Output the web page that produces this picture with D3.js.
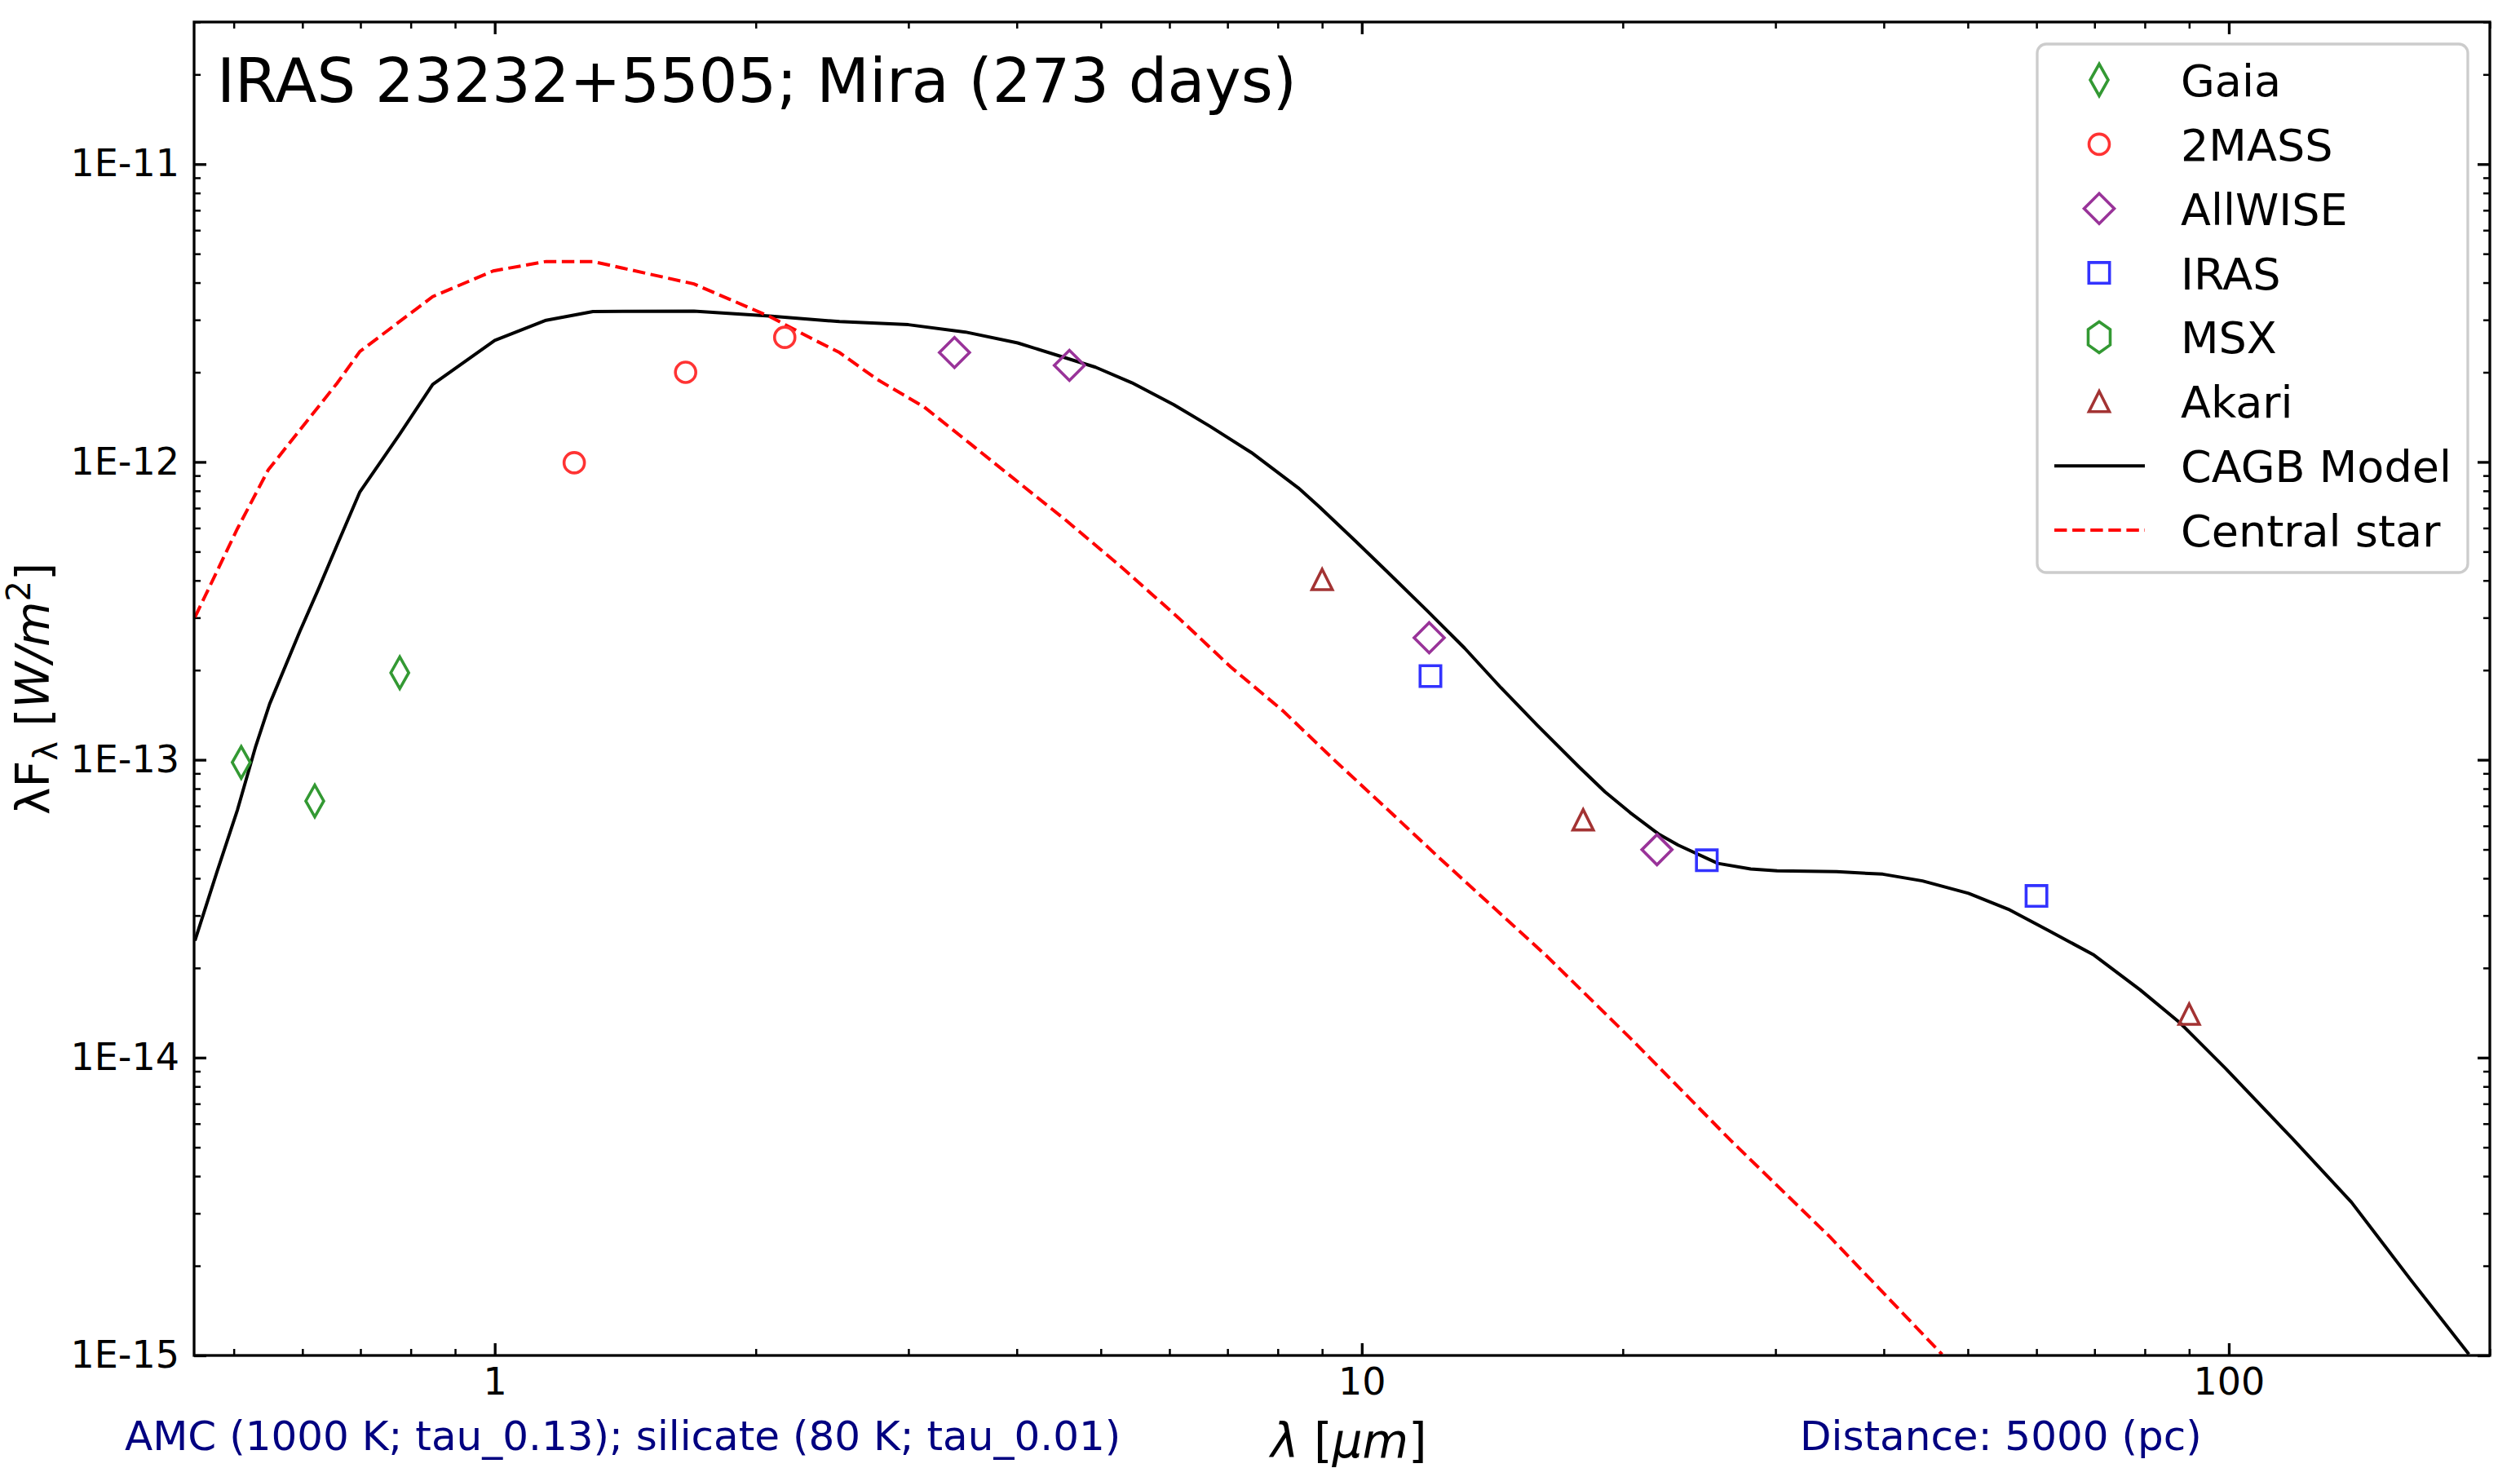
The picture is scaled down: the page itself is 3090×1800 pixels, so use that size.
<!DOCTYPE html>
<html>
<head>
<meta charset="utf-8">
<script src="https://cdn.jsdelivr.net/npm/d3@7"></script>
<style>
  body { margin: 0; background: #fff; }
  text { font-family: "DejaVu Sans", sans-serif; }
</style>
</head>
<body>
<div id="sed"></div>
<script>
// photometry, wavelength in micron, lambda*F_lambda in W/m^2
const gaiaLam = [0.51, 0.62, 0.777];
const gaiaFlux = [9.8e-14, 7.27e-14, 1.96e-13];
const tmassLam = [1.235, 1.66, 2.16];
const tmassFlux = [9.94e-13, 2.0e-12, 2.62e-12];
const wiseLam = [3.39, 4.6, 11.96, 21.9];
const wiseFlux = [2.33e-12, 2.11e-12, 2.57e-13, 4.99e-14];
const irasLam = [12, 25, 60];
const irasFlux = [1.91e-13, 4.6e-14, 3.49e-14];
const msxLam = [];
const msxFlux = [];
const akariLam = [9, 18, 90];
const akariFlux = [4.03e-13, 6.29e-14, 1.40e-14];

// CAGB model
const modelLam = [0.451, 0.478, 0.505, 0.53, 0.55, 0.596, 0.626, 0.658, 0.699, 0.776, 0.848, 1.0, 1.146, 1.298,
  1.697, 2.074, 2.498, 3.0, 3.49, 4.01, 4.93, 5.43, 6.07, 6.68, 7.46, 8.45, 8.93, 9.83, 10.68, 11.93, 13.14,
  14.47, 15.94, 17.8, 19.08, 20.39, 21.98, 23.17, 25.74, 28.09, 30.13, 35.28, 39.89, 44.32, 50.1, 55.66,
  61.83, 69.9, 79.0, 87.8, 99.2, 118.3, 138.5, 162.2, 189.2];
const modelFlux = [2.47e-14, 4.19e-14, 6.8e-14, 1.11e-13, 1.54e-13, 2.70e-13, 3.74e-13, 5.27e-13, 7.94e-13,
  1.234e-12, 1.82e-12, 2.56e-12, 2.99e-12, 3.20e-12, 3.21e-12, 3.09e-12, 2.96e-12, 2.89e-12, 2.73e-12,
  2.51e-12, 2.08e-12, 1.845e-12, 1.557e-12, 1.318e-12, 1.075e-12, 8.18e-13, 7.08e-13, 5.43e-13, 4.30e-13,
  3.14e-13, 2.37e-13, 1.746e-13, 1.306e-13, 9.47e-14, 7.80e-14, 6.65e-14, 5.64e-14, 5.17e-14, 4.49e-14,
  4.30e-14, 4.24e-14, 4.21e-14, 4.13e-14, 3.92e-14, 3.56e-14, 3.15e-14, 2.68e-14, 2.21e-14, 1.69e-14,
  1.31e-14, 9.18e-15, 5.36e-15, 3.27e-15, 1.79e-15, 1.01e-15];

// central star
const starLam = [0.451, 0.505, 0.548, 0.658, 0.699, 0.848, 0.996, 1.146, 1.298, 1.697, 2.074, 2.342, 2.498,
  2.763, 3.128, 3.541, 4.065, 4.54, 5.28, 6.15, 7.06, 8.11, 9.31, 10.68, 12.27, 16.32, 20.5,
  26.66, 34.67, 46.7];
const starFlux = [3.01e-13, 5.98e-13, 9.41e-13, 1.84e-12, 2.35e-12, 3.59e-12, 4.38e-12, 4.71e-12, 4.71e-12,
  3.96e-12, 3.08e-12, 2.56e-12, 2.33e-12, 1.89e-12, 1.53e-12, 1.147e-12, 8.31e-13, 6.43e-13, 4.44e-13,
  2.99e-13, 2.05e-13, 1.46e-13, 9.94e-14, 6.86e-14, 4.7e-14, 2.2e-14, 1.147e-14,
  5.26e-15, 2.50e-15, 1.008e-15];

const xMajor = [1, 10, 100];
const yMajor = [1e-15, 1e-14, 1e-13, 1e-12, 1e-11];

const titleText = "IRAS 23232+5505; Mira (273 days)";
const dustText = "AMC (1000 K; tau_0.13); silicate (80 K; tau_0.01)";
const distText = "Distance: 5000 (pc)";

const legendNames = ["Gaia", "2MASS", "AllWISE", "IRAS", "MSX", "Akari", "CAGB Model", "Central star"];

class SedPlot {
  constructor() {
    this.width = 3090;
    this.height = 1800;
    this.margin = { left: 238, right: 37, top: 27, bottom: 138 };
  }

  init() {
    this.draw();
  }

  markerPath(kind) {
    switch (kind) {
      case "thin_diamond": return "M0,-19.5L11,0L0,19.5L-11,0Z";
      case "circle": return "M12.5,0A12.5,12.5 0 1,1 -12.5,0A12.5,12.5 0 1,1 12.5,0Z";
      case "diamond": return "M0,-18.5L18.5,0L0,18.5L-18.5,0Z";
      case "square": return "M-12.7,-12.7H12.7V12.7H-12.7Z";
      case "hexagon": return "M0,-19L13.5,-9.5L13.5,9.5L0,19L-13.5,9.5L-13.5,-9.5Z";
      case "triangle": return "M0,-12.5L12.5,12.5L-12.5,12.5Z";
    }
  }

  draw() {
    const m = this.margin;
    const W = this.width, H = this.height;
    const x0 = m.left, x1 = W - m.right, y0 = m.top, y1 = H - m.bottom;

    const svg = d3.select("#sed").append("svg")
      .attr("width", W)
      .attr("height", H)
      .style("display", "block");
    this.svg = svg;

    svg.append("rect").attr("width", W).attr("height", H).attr("fill", "#fff");

    const x = d3.scaleLog().domain([0.45, 200]).range([x0, x1]);
    const y = d3.scaleLog().domain([1e-15, 3e-11]).range([y1, y0]);

    svg.append("clipPath").attr("id", "plotclip")
      .append("rect").attr("x", x0).attr("y", y0).attr("width", x1 - x0).attr("height", y1 - y0);

    // minor tick values
    const xMinor = [];
    for (const e of [-1, 0, 1, 2])
      for (let k = 2; k <= 9; k++) {
        const v = k * Math.pow(10, e);
        if (v >= 0.45 && v <= 200 && !xMajor.includes(v)) xMinor.push(v);
      }
    const yMinor = [];
    for (let e = -15; e <= -11; e++)
      for (let k = 2; k <= 9; k++) {
        const v = k * Math.pow(10, e);
        if (v <= 3e-11) yMinor.push(v);
      }

    const fmtY = d => "1E" + Math.round(Math.log10(d));
    const tickFont = 46;

    const axes = [
      { ax: d3.axisBottom(x).tickValues(xMajor).tickSize(-15).tickPadding(15).tickFormat(d3.format("d")), t: `translate(0,${y1})` },
      { ax: d3.axisBottom(x).tickValues(xMinor).tickSize(-8).tickFormat(""), t: `translate(0,${y1})` },
      { ax: d3.axisTop(x).tickValues(xMajor).tickSize(-15).tickFormat(""), t: `translate(0,${y0})` },
      { ax: d3.axisTop(x).tickValues(xMinor).tickSize(-8).tickFormat(""), t: `translate(0,${y0})` },
      { ax: d3.axisLeft(y).tickValues(yMajor).tickSize(-15).tickPadding(18).tickFormat(fmtY), t: `translate(${x0},0)` },
      { ax: d3.axisLeft(y).tickValues(yMinor).tickSize(-8).tickFormat(""), t: `translate(${x0},0)` },
      { ax: d3.axisRight(y).tickValues(yMajor).tickSize(-15).tickFormat(""), t: `translate(${x1},0)` },
      { ax: d3.axisRight(y).tickValues(yMinor).tickSize(-8).tickFormat(""), t: `translate(${x1},0)` }
    ];
    axes.forEach(a => {
      const g = svg.append("g").attr("transform", a.t).call(a.ax);
      g.select(".domain").remove();
      g.selectAll(".tick line").attr("stroke", "#000")
        .attr("stroke-width", Math.abs(a.ax.tickSizeInner()) > 10 ? 3.3 : 2.5);
      g.selectAll(".tick text").attr("fill", "#000")
        .style("font-family", "DejaVu Sans").style("font-size", tickFont + "px");
    });

    const plot = svg.append("g").attr("clip-path", "url(#plotclip)");

    const line = d3.line().x(d => x(d[0])).y(d => y(d[1]));

    plot.append("path")
      .datum(modelLam.map((l, i) => [l, modelFlux[i]]))
      .attr("d", line)
      .attr("fill", "none")
      .attr("stroke", "#000")
      .attr("stroke-width", 4)
      .attr("stroke-linejoin", "round");

    plot.append("path")
      .datum(starLam.map((l, i) => [l, starFlux[i]]))
      .attr("d", line)
      .attr("fill", "none")
      .attr("stroke", "#ff0000")
      .attr("stroke-width", 4)
      .attr("stroke-dasharray", "15.4,6.7");

    const sets = [
      { lam: gaiaLam, flux: gaiaFlux, color: "#339933", kind: "thin_diamond" },
      { lam: tmassLam, flux: tmassFlux, color: "#ff3333", kind: "circle" },
      { lam: wiseLam, flux: wiseFlux, color: "#993399", kind: "diamond" },
      { lam: irasLam, flux: irasFlux, color: "#3333ff", kind: "square" },
      { lam: msxLam, flux: msxFlux, color: "#339933", kind: "hexagon" },
      { lam: akariLam, flux: akariFlux, color: "#a33333", kind: "triangle" }
    ];

    sets.forEach(s => {
      plot.append("g").selectAll("path")
        .data(s.lam.map((l, i) => [l, s.flux[i]]))
        .join("path")
        .attr("d", this.markerPath(s.kind))
        .attr("transform", d => `translate(${x(d[0])},${y(d[1])})`)
        .attr("fill", "none")
        .attr("stroke", s.color)
        .attr("stroke-width", 3.6);
    });

    // frame
    svg.append("rect")
      .attr("x", x0).attr("y", y0)
      .attr("width", x1 - x0).attr("height", y1 - y0)
      .attr("fill", "none").attr("stroke", "#000").attr("stroke-width", 3.3);

    // title
    svg.append("text")
      .attr("x", 266).attr("y", 125)
      .style("font-size", "75px")
      .text(titleText);

    // legend
    const lg = svg.append("g");
    lg.append("rect")
      .attr("x", 2498).attr("y", 54).attr("width", 528).attr("height", 648)
      .attr("rx", 11).attr("ry", 11)
      .attr("fill", "#fff").attr("fill-opacity", 0.8)
      .attr("stroke", "#cccccc").attr("stroke-width", 3.3);

    const rowY = d3.scaleLinear().domain([0, 7]).range([98, 650]);
    legendNames.forEach((name, i) => {
      const cy = rowY(i);
      if (i < sets.length) {
        lg.append("path")
          .attr("d", this.markerPath(sets[i].kind))
          .attr("transform", `translate(2574,${cy})`)
          .attr("fill", "none")
          .attr("stroke", sets[i].color)
          .attr("stroke-width", 3.6);
      } else {
        lg.append("line")
          .attr("x1", 2519).attr("x2", 2630).attr("y1", cy).attr("y2", cy)
          .attr("stroke", i === 6 ? "#000" : "#ff0000")
          .attr("stroke-width", 4)
          .attr("stroke-dasharray", i === 6 ? null : "15.4,6.7");
      }
      lg.append("text")
        .attr("x", 2674).attr("y", cy + 20)
        .style("font-size", "54px")
        .text(name);
    });

    // axis labels
    const xl = svg.append("text")
      .attr("x", 1654).attr("y", 1787)
      .attr("text-anchor", "middle")
      .style("font-size", "58px");
    xl.append("tspan").style("font-style", "italic").text("λ");
    xl.append("tspan").text(" [");
    xl.append("tspan").style("font-style", "italic").text("μm");
    xl.append("tspan").text("]");

    const yl = svg.append("text")
      .attr("transform", `translate(60,${(y0 + y1) / 2}) rotate(-90)`)
      .attr("text-anchor", "middle")
      .style("font-size", "57px");
    yl.append("tspan").text("λF");
    yl.append("tspan").attr("dy", 10).style("font-size", "40px").text("λ");
    yl.append("tspan").attr("dy", -10).text(" [");
    yl.append("tspan").style("font-style", "italic").text("W/m");
    yl.append("tspan").attr("dy", -23).style("font-size", "40px").text("2");
    yl.append("tspan").attr("dy", 23).text("]");

    // notes under the axis
    svg.append("text")
      .attr("x", 153).attr("y", 1778)
      .attr("fill", "#000080")
      .style("font-size", "50px")
      .text(dustText);
    svg.append("text")
      .attr("x", 2207).attr("y", 1778)
      .attr("fill", "#000080")
      .style("font-size", "50px")
      .text(distText);

    return svg.node();
  }
}

const sed = new SedPlot();
sed.init();
</script>
</body>
</html>
